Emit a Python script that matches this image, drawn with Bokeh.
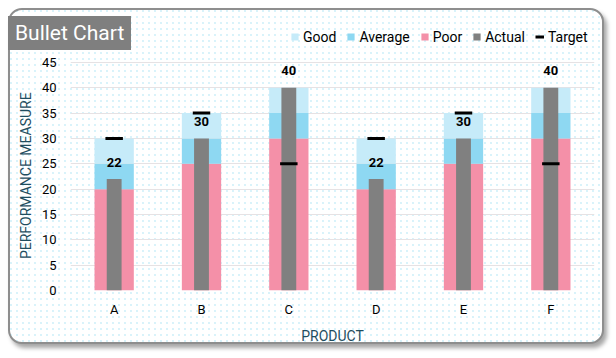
from bokeh.plotting import figure
from bokeh.layouts import column
from bokeh.models import ColumnDataSource, FactorRange, Range1d, Legend, LegendItem, FixedTicker, Div
from bokeh.transform import dodge
from bokeh.core.properties import value
from bokeh.embed import file_html
from bokeh.resources import INLINE

products = ["A", "B", "C", "D", "E", "F"]
poor = [20, 25, 30, 20, 25, 30]
average = [5, 5, 5, 5, 5, 5]
good = [5, 5, 5, 5, 5, 5]
actual = [22, 30, 40, 22, 30, 40]
target = [30, 35, 25, 30, 35, 25]
y_ticks = [0, 5, 10, 15, 20, 25, 30, 35, 40, 45]

src = ColumnDataSource(dict(product=products, poor=poor, average=average, good=good,
                            actual=actual, target=target,
                            actual_str=[str(v) for v in actual]))

FONT = "Roboto"
TEAL = "#1f4e5f"

p = figure(width=596, height=336, x_range=FactorRange(*products, range_padding=0),
           y_range=Range1d(0, 51.5), output_backend="svg", toolbar_location=None,
           min_border_left=60, min_border_right=12, min_border_top=19, min_border_bottom=54)

p.background_fill_alpha = 0
p.border_fill_alpha = 0
p.outline_line_color = None
p.styles = {
    "margin-left": "8px",
    "margin-top": "8px",
    "border": "2px solid #8e8e8e",
    "border-radius": "14px",
    "box-shadow": "3px 4px 4px rgba(0,0,0,0.35)",
    "overflow": "hidden",
    "background-color": "#ffffff",
    "background-image": "radial-gradient(circle at 1px 1px, #c4ecf8 0.6px, transparent 0.9px)",
    "background-size": "6px 6px",
}

cols = ["#f490a8", "#8ed8f2", "#c6ebf9"]
stack = p.vbar_stack(["poor", "average", "good"], x="product", width=0.45, color=cols,
                     line_color=None, source=src)
act = p.vbar(x="product", top="actual", width=0.17, color="#808080", line_color=None, source=src)
tgt = p.segment(x0=dodge("product", -0.1, range=p.x_range), x1=dodge("product", 0.1, range=p.x_range),
                y0="target", y1="target", line_width=3, line_color="black", line_cap="butt", source=src)
p.text(x="product", y="actual", text="actual_str", text_align="center", text_baseline="middle",
       y_offset=-17, text_font=value(FONT), text_font_style="bold", text_font_size="13px",
       text_color="black", source=src)

p.xgrid.grid_line_color = None
p.ygrid.grid_line_color = "#e6e2e4"
p.ygrid.grid_line_width = 1
p.yaxis.ticker = FixedTicker(ticks=y_ticks)
for ax in (p.xaxis[0], p.yaxis[0]):
    ax.axis_line_color = None
    ax.major_tick_line_color = None
    ax.minor_tick_line_color = None
    ax.major_tick_out = 0
    ax.major_tick_in = 0
    ax.minor_tick_out = 0
    ax.minor_tick_in = 0
    ax.major_label_text_font = FONT
    ax.major_label_text_font_size = "13px"
    ax.major_label_text_color = "black"
    ax.axis_label_text_font = FONT
    ax.axis_label_text_font_size = "14px"
    ax.axis_label_text_font_style = "normal"
    ax.axis_label_text_color = TEAL
p.yaxis.major_label_standoff = 14
p.xaxis.major_label_standoff = 11
p.yaxis.axis_label = "PERFORMANCE MEASURE" + "\u2007" * 4
p.xaxis.axis_label = "PRODUCT"
p.yaxis.axis_label_standoff = 5
p.xaxis.axis_label_standoff = 8

legend = Legend(items=[
    LegendItem(label="Good", renderers=[stack[2]]),
    LegendItem(label="Average", renderers=[stack[1]]),
    LegendItem(label="Poor", renderers=[stack[0]]),
    LegendItem(label="Actual", renderers=[act]),
    LegendItem(label="Target", renderers=[tgt]),
], orientation="horizontal", location=(220, 245))
legend.glyph_width = 9
legend.glyph_height = 9
legend.label_standoff = 4
legend.spacing = 10
legend.padding = 0
legend.margin = 0
legend.label_text_font = FONT
legend.label_text_font_size = "14px"
legend.label_text_color = "black"
legend.label_height = 17
legend.background_fill_alpha = 0
legend.border_line_alpha = 0
p.add_layout(legend, "center")

title_div = Div(text="Bullet Chart", margin=0, styles={
    "position": "absolute", "left": "8px", "top": "16px", "z-index": "10",
    "background-color": "#7f7f7f", "color": "#ffffff", "font-family": "Roboto",
    "font-size": "21px", "line-height": "34px", "height": "34px",
    "padding": "0 7px", "white-space": "nowrap",
})

page = column(p, title_div, margin=0, spacing=0)
open("out.html", "w").write(file_html(page, INLINE))
